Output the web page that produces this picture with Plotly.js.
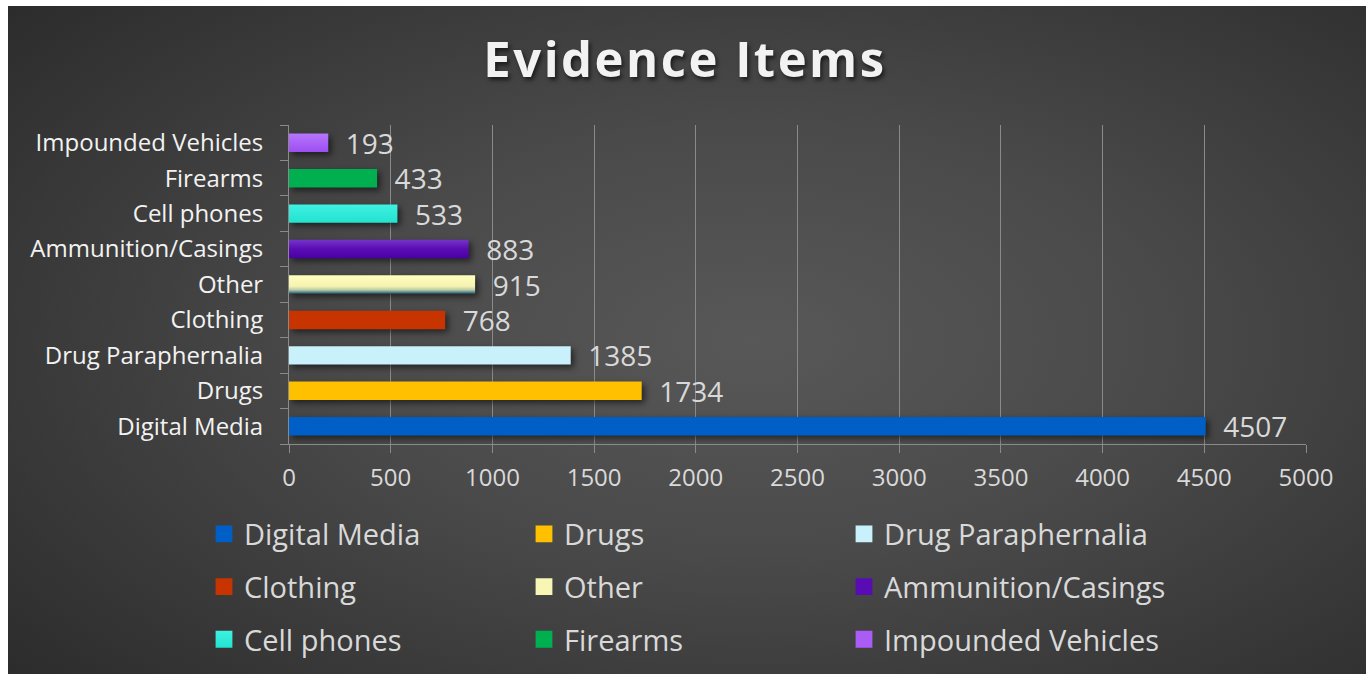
<!DOCTYPE html>
<html><head><meta charset="utf-8">
<script src="https://cdn.plot.ly/plotly-3.0.1.min.js"></script>
<style>
html,body{margin:0;padding:0;background:#ffffff;overflow:hidden;}
#chart{position:absolute;left:8px;top:6px;width:1358px;height:668px;
background: radial-gradient(ellipse 75% 80% at 55% 50%, #585858 0%, #4a4a4a 40%, #2a2a2a 100%);}
.trace.bars .point path{filter:drop-shadow(3px 3px 3px rgba(0,0,0,0.55));}
.gtitle{letter-spacing:2.5px;}
</style></head><body><div id="chart"></div>
<script>
// Data (bottom-to-top order, same as legend order)
const categories = ['Digital Media','Drugs','Drug Paraphernalia','Clothing','Other','Ammunition/Casings','Cell phones','Firearms','Impounded Vehicles'];
const values = [4507, 1734, 1385, 768, 915, 883, 533, 433, 193];
const colors = ['#005fc6','#ffc000','#c9f1fb','#c83400','#f8f6b4','#5a0cb4','#2ee9d8','#00b050','#a95cf6'];
const xTickVals = [0,500,1000,1500,2000,2500,3000,3500,4000,4500,5000];

const FONT = 'Open Sans, Lato, sans-serif';
// legend laid out as 3 columns (one legend per column)
const traces = categories.map((c, i) => ({
  type: 'bar', orientation: 'h',
  y: [c], x: [values[i]], name: c,
  marker: {color: colors[i], line: {width: 0}},
  texttemplate: '\u00a0\u00a0%{x}', textposition: 'outside',
  textfont: {family: FONT, size: 28, color: '#d9d9d9'},
  outsidetextfont: {family: FONT, size: 28, color: '#d9d9d9'},
  constraintext: 'none', cliponaxis: false,
  hoverinfo: 'x+name',
  legendgroup: c,
  legend: (i % 3) === 0 ? 'legend' : 'legend' + ((i % 3) + 1)
}));

const W = 1358, H = 668;
const legendFont = {family: FONT, size: 29, color: '#d9d9d9'};
function leg(leftX) {
  return {orientation: 'v', xref: 'container', yref: 'container',
    x: (leftX - 8) / W, xanchor: 'left', y: 1 - (587 - 6) / H, yanchor: 'middle',
    font: legendFont, traceorder: 'grouped', tracegroupgap: 12,
    bgcolor: 'rgba(0,0,0,0)', borderwidth: 0};
}

const layout = {
  width: W, height: H,
  paper_bgcolor: 'rgba(0,0,0,0)', plot_bgcolor: 'rgba(0,0,0,0)',
  margin: {l: 281, r: 60, t: 119, b: 230, autoexpand: false},
  barmode: 'overlay', bargap: 0.48,
  showlegend: true,
  title: {text: 'Evidence Items', xref: 'container', yref: 'container', x: 0.4985, xanchor: 'center',
    y: 1 - (60 - 6) / H, yanchor: 'middle',
    font: {family: FONT, size: 49, weight: 700, color: '#f2f2f2', shadow: '2px 3px 4px rgba(0,0,0,0.6)'}},
  xaxis: {range: [0, 5000], tickvals: xTickVals, ticktext: xTickVals.map(String),
    showgrid: true, gridcolor: '#8a8a8a', gridwidth: 1, zeroline: false,
    showline: true, linecolor: '#8a8a8a', linewidth: 1,
    ticks: 'outside', ticklen: 8, tickcolor: '#8a8a8a', tickwidth: 1, ticklabelstandoff: 4,
    tickfont: {family: FONT, size: 24, color: '#d9d9d9'}, fixedrange: true, automargin: false},
  yaxis: {type: 'category', categoryorder: 'array', categoryarray: categories,
    showgrid: false, zeroline: false, showline: true, linecolor: '#8a8a8a', linewidth: 1,
    ticks: 'outside', ticklen: 8, tickcolor: '#8a8a8a', tickwidth: 1, tickson: 'boundaries',
    ticklabelstandoff: 20,
    tickfont: {family: FONT, size: 24, color: '#f2f2f2'}, fixedrange: true, automargin: false},
  legend: leg(204), legend2: leg(524), legend3: leg(844)
};

Plotly.newPlot('chart', traces, layout, {displayModeBar: false, staticPlot: true}).then(gd => {
  // add gradient fills to mimic the original bar styles
  const svg = gd.querySelector('svg.main-svg');
  let defs = svg.querySelector('defs');
  const NS = 'http://www.w3.org/2000/svg';
  function grad(id, stops) {
    const g = document.createElementNS(NS, 'linearGradient');
    g.setAttribute('id', id); g.setAttribute('x1', '0'); g.setAttribute('y1', '0');
    g.setAttribute('x2', '0'); g.setAttribute('y2', '1');
    stops.forEach(([o, c]) => { const s = document.createElementNS(NS, 'stop');
      s.setAttribute('offset', o); s.setAttribute('stop-color', c); g.appendChild(s); });
    defs.appendChild(g);
  }
  grad('gOther', [['0', '#ffffbe'], ['0.6', '#f6f2b0'], ['0.8', '#b7c8a8'], ['1', '#1c5a6c']]);
  grad('gAmmo', [['0', '#7434c6'], ['0.5', '#5a0cb4'], ['1', '#4a00a4']]);
  grad('gImp', [['0', '#b676fb'], ['1', '#9d4ef2']]);
  grad('gCell', [['0', '#40f1e2'], ['1', '#22e2d0']]);
  const map = {'Other': 'gOther', 'Ammunition/Casings': 'gAmmo', 'Impounded Vehicles': 'gImp', 'Cell phones': 'gCell'};
  const barTraces = gd.querySelectorAll('g.trace.bars');
  barTraces.forEach((t, i) => {
    const id = map[categories[i]];
    if (id) t.querySelectorAll('.point path').forEach(p => p.style.fill = 'url(#' + id + ')');
  });
  gd.querySelectorAll('g.traces').forEach(t => {
    const txt = t.querySelector('.legendtext');
    const id = txt && map[txt.textContent];
    t.querySelectorAll('.legendpoints path').forEach(p => {
      if (id) p.style.fill = 'url(#' + id + ')';
      p.setAttribute('transform', (p.getAttribute('transform') || '') + ' scale(1.4)');
    });
  });
});
</script>
</body></html>
